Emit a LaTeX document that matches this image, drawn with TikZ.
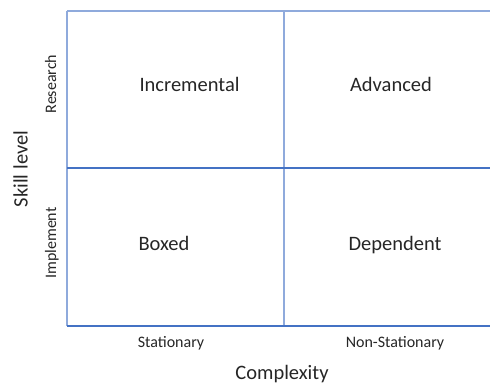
\documentclass[tikz,border=0pt]{standalone}
\usepackage{fontspec}
\setmainfont{Carlito}
\definecolor{gridlight}{HTML}{8FAADC}
\definecolor{griddark}{HTML}{4472C4}
\definecolor{ink}{HTML}{262626}
\begin{document}
\begin{tikzpicture}[x=1bp,y=-1bp,
  big/.style={font=\fontsize{20.5bp}{24bp}\selectfont, text=ink, inner sep=0pt, anchor=base},
  small/.style={font=\fontsize{16bp}{19bp}\selectfont, text=ink, inner sep=0pt, anchor=base},
  light/.style={draw=gridlight, line width=1.3bp},
  dark/.style={draw=griddark, line width=1.3bp}]
  \useasboundingbox (0,0) rectangle (490,385);
  % frame corners and dividers
  \coordinate (tl) at (67,11);
  \coordinate (tr) at (490,11);
  \coordinate (tm) at (284,11);
  \coordinate (ml) at (67,168);
  \coordinate (mr) at (490,168);
  \coordinate (bl) at (67,326);
  \coordinate (bm) at (284,326);
  \coordinate (br) at (490,326);
  \draw[light] (tl) -- (tr);
  \draw[light] (tl) -- (bl);
  \draw[light] (tm) -- (bm);
  \draw[dark] (ml) -- (mr);
  \draw[dark] (bl) -- (br);
  % quadrant labels (placed by baseline)
  \node[big] (incr) at (189.5,91.5) {Incremental};
  \node[big] (adv) at (391,91.5) {Advanced};
  \node[big] (boxed) at (164,250) {Boxed};
  \node[big] (dep) at (395,250) {Dependent};
  % axis labels
  \node[small] (stat) at (171,347) {Stationary};
  \node[small] (nonstat) at (395,347) {Non-Stationary};
  \node[big] (cplx) at (282,379.5) {Complexity};
  \node[small, rotate=90] (res) at (56,84) {Research};
  \node[small, rotate=90] (impl) at (56,243) {Implement};
  \node[big, rotate=90] (skill) at (27.5,169) {Skill level};
\end{tikzpicture}
\end{document}
